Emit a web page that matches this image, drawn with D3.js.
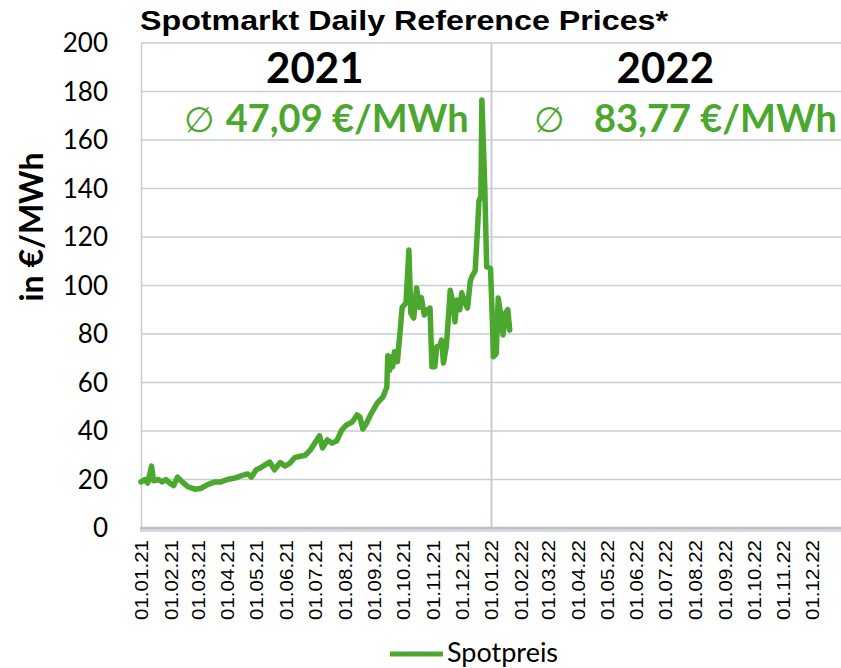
<!DOCTYPE html>
<html>
<head>
<meta charset="utf-8">
<script src="https://cdn.jsdelivr.net/npm/d3@7"></script>
<style>
  body { margin: 0; background: #fff; }
  svg { display: block; }
</style>
</head>
<body>
<script>
var width = 841;
var height = 668;
var GREEN = "#4ca72e";
var GRID = "#c9cdd5";

// daily reference prices (€/MWh)
var dates = ["01.01.21", "05.01.21", "08.01.21", "12.01.21", "14.01.21", "19.01.21", "23.01.21", "27.01.21", "31.01.21",
    "04.02.21", "08.02.21", "13.02.21", "19.02.21", "26.02.21", "04.03.21", "12.03.21", "19.03.21", "25.03.21",
    "01.04.21", "09.04.21", "15.04.21", "22.04.21", "26.04.21", "01.05.21", "05.05.21", "10.05.21", "15.05.21",
    "20.05.21", "26.05.21", "31.05.21", "05.06.21", "10.06.21", "15.06.21", "21.06.21", "26.06.21", "01.07.21",
    "06.07.21", "09.07.21", "14.07.21", "19.07.21", "24.07.21", "29.07.21", "03.08.21", "09.08.21", "14.08.21",
    "17.08.21", "20.08.21", "24.08.21", "29.08.21", "04.09.21", "07.09.21", "10.09.21", "14.09.21", "15.09.21",
    "17.09.21", "19.09.21", "20.09.21", "22.09.21", "25.09.21", "28.09.21", "30.09.21", "04.10.21", "07.10.21",
    "09.10.21", "12.10.21", "15.10.21", "18.10.21", "20.10.21", "23.10.21", "26.10.21", "29.10.21", "31.10.21",
    "03.11.21", "05.11.21", "08.11.21", "10.11.21", "12.11.21", "15.11.21", "17.11.21", "19.11.21", "22.11.21",
    "24.11.21", "26.11.21", "29.11.21", "01.12.21", "04.12.21", "07.12.21", "10.12.21", "12.12.21", "15.12.21",
    "17.12.21", "19.12.21", "21.12.21", "22.12.21", "25.12.21", "27.12.21", "31.12.21", "02.01.22", "03.01.22",
    "06.01.22", "08.01.22", "11.01.22", "13.01.22", "16.01.22", "18.01.22", "20.01.22"];
var prices = [19, 20, 18.5, 25.5, 19.5, 20, 19, 20, 18.5,
    17.5, 21, 19, 17, 16, 16.3, 18, 19, 19,
    20, 20.6, 21.5, 22.3, 21, 24, 24.7, 26, 27.2,
    24, 27, 25.5, 26.7, 29, 29.5, 30, 32, 35,
    38, 33, 36.3, 35, 36, 40.4, 42.5, 43.7, 46.6,
    45.8, 40.8, 43.3, 47.4, 51.5, 52.8, 54, 58, 71,
    65, 70.6, 66.5, 72.7, 68.6, 81.6, 91, 92.8, 114.6,
    88.6, 86.6, 99, 91, 95, 87.8, 89.8, 90.7, 66.5,
    66.5, 74.8, 75, 77.5, 68, 75, 86, 98, 92.6,
    85, 94, 90, 97, 93.3, 90.7, 102, 104, 106,
    120, 135, 136.6, 176.5, 140.7, 107.7, 107, 84.5, 70.6,
    72, 94.8, 87, 79.6, 89, 90, 81.6];

var years = ["2021", "2022"];
var averages = ["47,09 €/MWh", "83,77 €/MWh"];
var yTicks = [0, 20, 40, 60, 80, 100, 120, 140, 160, 180, 200];

var parseDate = d3.timeParse("%d.%m.%y");
var data = dates.map(function (d, i) {
    return {date: parseDate(d), value: prices[i]};
});

var svg = d3.select("body")
    .append("svg")
    .attr("width", width)
    .attr("height", height);

var x = d3.scaleTime()
    .domain([new Date(2021, 0, 1), new Date(2022, 11, 31)])
    .range([141, 841]);

var y = d3.scaleLinear()
    .domain([0, 200])
    .range([528, 43]);

// gridlines
svg.append("g")
    .selectAll("line")
    .data(yTicks.slice(1))
    .enter()
    .append("line")
    .attr("x1", x.range()[0])
    .attr("x2", width)
    .attr("y1", function (d) { return y(d); })
    .attr("y2", function (d) { return y(d); })
    .attr("stroke", GRID)
    .attr("stroke-width", 1.5);

// left border
svg.append("line")
    .attr("x1", 141.5).attr("x2", 141.5)
    .attr("y1", y(200)).attr("y2", y(0))
    .attr("stroke", GRID)
    .attr("stroke-width", 1.5);

// year divider
svg.append("line")
    .attr("x1", x(new Date(2022, 0, 1)))
    .attr("x2", x(new Date(2022, 0, 1)))
    .attr("y1", y(200)).attr("y2", y(0))
    .attr("stroke", GRID)
    .attr("stroke-width", 2);

// bottom axis line
svg.append("line")
    .attr("x1", 140).attr("x2", width)
    .attr("y1", y(0) + 2).attr("y2", y(0) + 2)
    .attr("stroke", "#d6d9de")
    .attr("stroke-width", 4);
svg.append("line")
    .attr("x1", 140).attr("x2", width)
    .attr("y1", y(0)).attr("y2", y(0))
    .attr("stroke", "#bcc1c9")
    .attr("stroke-width", 2.5);

// y tick labels
svg.append("g")
    .selectAll("text")
    .data(yTicks)
    .enter()
    .append("text")
    .attr("x", 108)
    .attr("y", function (d) { return y(d) + 9; })
    .attr("text-anchor", "end")
    .style("font-family", "Lato, sans-serif")
    .style("font-size", "26px")
    .text(function (d) { return d; });

// x tick labels
var xTicks = x.ticks(d3.timeMonth.every(1));
svg.append("g")
    .selectAll("text")
    .data(xTicks)
    .enter()
    .append("text")
    .attr("transform", function (d) {
        return "translate(" + (x(d) + 7) + ",540) rotate(-90)";
    })
    .attr("text-anchor", "end")
    .attr("textLength", 80)
    .attr("lengthAdjust", "spacingAndGlyphs")
    .style("font-family", "'Liberation Sans', Arial, sans-serif")
    .style("font-size", "19px")
    .text(d3.timeFormat("%d.%m.%y"));

// the series
var line = d3.line()
    .x(function (d) { return x(d.date); })
    .y(function (d) { return y(d.value); });

svg.append("path")
    .datum(data)
    .attr("d", line)
    .attr("fill", "none")
    .attr("stroke", GREEN)
    .attr("stroke-width", 5.5)
    .attr("stroke-linejoin", "round")
    .attr("stroke-linecap", "round");

// title
svg.append("text")
    .attr("x", 140)
    .attr("y", 30)
    .attr("textLength", 528)
    .attr("lengthAdjust", "spacingAndGlyphs")
    .style("font-family", "'Liberation Sans', Arial, sans-serif")
    .style("font-weight", "bold")
    .style("font-size", "28px")
    .text("Spotmarkt Daily Reference Prices*");

// year labels + averages
years.forEach(function (yr) {
    var mid = x(new Date(+yr, 6, 1));
    svg.append("text")
        .attr("x", mid)
        .attr("y", 83)
        .attr("text-anchor", "middle")
        .style("font-family", "Lato, sans-serif")
        .style("font-weight", "bold")
        .style("font-size", "42px")
        .text(yr);
});

svg.append("text")
    .attr("x", 184)
    .attr("y", 132)
    .style("font-family", "Lato, sans-serif")
    .style("font-size", "38px")
    .style("fill", GREEN)
    .call(function (t) {
        t.append("tspan").style("font-family", "'DejaVu Sans', sans-serif").style("font-size", "35px").text("∅ ");
        t.append("tspan").style("font-weight", "bold").text(averages[0]);
    });

svg.append("text")
    .attr("x", 534)
    .attr("y", 132)
    .style("font-family", "'DejaVu Sans', sans-serif")
    .style("font-size", "35px")
    .style("fill", GREEN)
    .text("∅");
svg.append("text")
    .attr("x", 837)
    .attr("y", 132)
    .attr("text-anchor", "end")
    .style("font-family", "Lato, sans-serif")
    .style("font-weight", "bold")
    .style("font-size", "38px")
    .style("fill", GREEN)
    .text(averages[1]);

// y axis title
svg.append("text")
    .attr("transform", "translate(43,227) rotate(-90)")
    .attr("text-anchor", "middle")
    .style("font-family", "Lato, sans-serif")
    .style("font-weight", "bold")
    .style("font-size", "32px")
    .text("in €/MWh");

// legend
svg.append("line")
    .attr("x1", 390).attr("x2", 443)
    .attr("y1", 654).attr("y2", 654)
    .attr("stroke", GREEN)
    .attr("stroke-width", 5);
svg.append("text")
    .attr("x", 447)
    .attr("y", 662)
    .style("font-family", "Lato, sans-serif")
    .style("font-size", "27px")
    .text("Spotpreis");
</script>
</body>
</html>
